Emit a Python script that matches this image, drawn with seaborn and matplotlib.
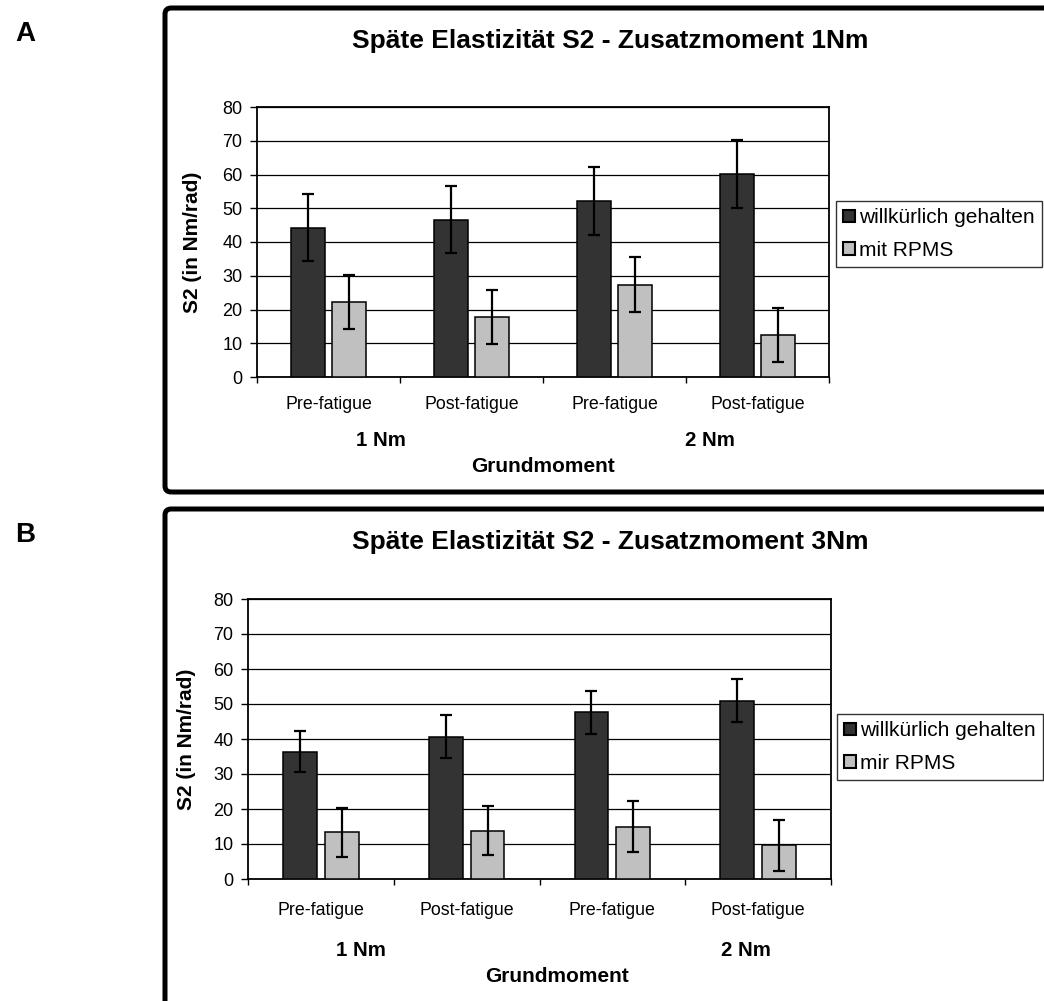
import numpy as np
import pandas as pd
import seaborn as sns
import matplotlib
matplotlib.use("Agg")
import matplotlib.pyplot as plt
from matplotlib.patches import FancyBboxPatch

# ---------------- data ----------------
conditions = ["Pre-fatigue", "Post-fatigue", "Pre-fatigue", "Post-fatigue"]
cond_keys = ["1 Nm Pre-fatigue", "1 Nm Post-fatigue", "2 Nm Pre-fatigue", "2 Nm Post-fatigue"]
groups = ["1 Nm", "2 Nm"]
series_a = ["willkürlich gehalten", "mit RPMS"]
series_b = ["willkürlich gehalten", "mir RPMS"]

titles = ["Späte Elastizität S2 - Zusatzmoment 1Nm", "Späte Elastizität S2 - Zusatzmoment 3Nm"]

a_vol = [44.2, 46.6, 52.2, 60.2]
a_vol_err = [9.9, 9.9, 10.0, 10.0]
a_rpms = [22.3, 17.7, 27.4, 12.4]
a_rpms_err = [8.0, 8.0, 8.2, 8.0]

b_vol = [36.4, 40.7, 47.6, 51.0]
b_vol_err = [5.9, 6.1, 6.1, 6.1]
b_rpms = [13.4, 13.8, 15.0, 9.6]
b_rpms_err = [7.0, 7.0, 7.3, 7.2]

yticks = [0, 10, 20, 30, 40, 50, 60, 70, 80]
colors = ["#333333", "#c0c0c0"]

# ---------------- style ----------------
sns.set_style("white")
plt.rcParams["font.family"] = ["Liberation Sans", "DejaVu Sans"]
plt.rcParams["text.color"] = "black"
plt.rcParams["axes.labelcolor"] = "black"
plt.rcParams["xtick.color"] = "black"
plt.rcParams["ytick.color"] = "black"

W, H = 1044, 1001
fig = plt.figure(figsize=(W / 100, H / 100), dpi=100)


def fx(px):
    return px / W


def fy(py):
    return 1 - py / H


def make_df(vol, rpms, names):
    return pd.DataFrame({
        "cond": cond_keys * 2,
        "series": [names[0]] * 4 + [names[1]] * 4,
        "value": list(vol) + list(rpms),
    })


panels = [
    dict(top=107, bottom=377, left=257, right=829, box_top=8, box_h=484,
         vol=a_vol, vol_err=a_vol_err, rpms=a_rpms, rpms_err=a_rpms_err,
         names=series_a, title=titles[0], letter="A",
         legend=(836, 201), tickpad=9.5, ylab_x=202,
         g1=(381, 440), g2=(710, 440), gm=(543, 466)),
    dict(top=599, bottom=879, left=248, right=831, box_top=509, box_h=560,
         vol=b_vol, vol_err=b_vol_err, rpms=b_rpms, rpms_err=b_rpms_err,
         names=series_b, title=titles[1], letter="B",
         legend=(837, 714), tickpad=12.5, ylab_x=196,
         g1=(361, 950), g2=(746, 950), gm=(557, 977)),
]

for p in panels:
    off = p["box_top"] - 8
    # panel frame
    box = FancyBboxPatch((fx(165), fy(p["box_top"] + p["box_h"])), 1.0, p["box_h"] / H,
                         boxstyle="round,pad=0,rounding_size=0.006",
                         transform=fig.transFigure, fill=False,
                         edgecolor="black", linewidth=3.6, clip_on=False)
    fig.patches.append(box)

    ax = fig.add_axes([fx(p["left"]), fy(p["bottom"]),
                       (p["right"] - p["left"]) / W, (p["bottom"] - p["top"]) / H])
    df = make_df(p["vol"], p["rpms"], p["names"])
    sns.barplot(data=df, x="cond", y="value", hue="series", order=cond_keys,
                hue_order=p["names"], palette=colors, width=0.573, gap=0.19,
                errorbar=None, edgecolor="black", linewidth=1.1, ax=ax,
                zorder=3)
    for cont, errs in zip(ax.containers, [p["vol_err"], p["rpms_err"]]):
        xs = [b.get_x() + b.get_width() / 2 for b in cont]
        ys = [b.get_height() for b in cont]
        ax.errorbar(xs, ys, yerr=errs, fmt="none", ecolor="black",
                    elinewidth=1.6, capsize=4.5, capthick=1.6, zorder=4)

    ax.set_ylim(0, 80)
    ax.set_xlim(-0.5, 3.5)
    ax.set_yticks(yticks)
    ax.set_yticklabels([str(t) for t in yticks], fontsize=13)
    ax.set_xticks(range(4))
    ax.set_xticklabels(conditions, fontsize=12.8)
    ax.set_xticks(np.arange(-0.5, 4.0, 1.0), minor=True)
    ax.tick_params(axis="x", which="major", length=0, pad=p["tickpad"] + 4.3)
    ax.tick_params(axis="x", which="minor", length=4.3, width=1.0, direction="out",
                   color="black", bottom=True)
    ax.tick_params(axis="y", length=5, width=1.0, direction="out", color="black",
                   left=True, pad=5.5)
    ax.grid(False)
    ax.yaxis.grid(True, color="black", linewidth=0.9)
    ax.set_axisbelow(True)
    for s in ax.spines.values():
        s.set_visible(True)
        s.set_color("black")
        s.set_linewidth(1.3)
    ax.set_xlabel("")
    ax.set_ylabel("S2 (in Nm/rad)", fontsize=15, fontweight="bold")
    ax.yaxis.set_label_coords((p["ylab_x"] - p["left"]) / (p["right"] - p["left"]), 0.5)

    handles, labels = ax.get_legend_handles_labels()
    ax.get_legend().remove()
    leg = fig.legend(handles, labels, loc="upper left",
                     bbox_to_anchor=(fx(p["legend"][0]), fy(p["legend"][1])),
                     bbox_transform=fig.transFigure, fontsize=15,
                     frameon=True, fancybox=False, edgecolor="black",
                     handlelength=0.55, handleheight=0.55, handletextpad=0.2,
                     labelspacing=0.65, borderpad=0.35, borderaxespad=0)
    leg.get_frame().set_linewidth(1.0)
    for h in leg.legend_handles:
        h.set_edgecolor("black")
        h.set_linewidth(1.5)

    fig.text(fx(610), fy(48 + off), p["title"], fontsize=19, fontweight="bold",
             ha="center", va="baseline")
    fig.text(fx(25), fy(41 + off), p["letter"], fontsize=20, fontweight="bold",
             ha="center", va="baseline")
    fig.text(fx(p["g1"][0]), fy(p["g1"][1]), groups[0], fontsize=14.7,
             fontweight="bold", ha="center", va="center")
    fig.text(fx(p["g2"][0]), fy(p["g2"][1]), groups[1], fontsize=14.7,
             fontweight="bold", ha="center", va="center")
    fig.text(fx(p["gm"][0]), fy(p["gm"][1]), "Grundmoment", fontsize=15,
             fontweight="bold", ha="center", va="center")

fig.savefig("out.png", dpi=100, facecolor="white")
